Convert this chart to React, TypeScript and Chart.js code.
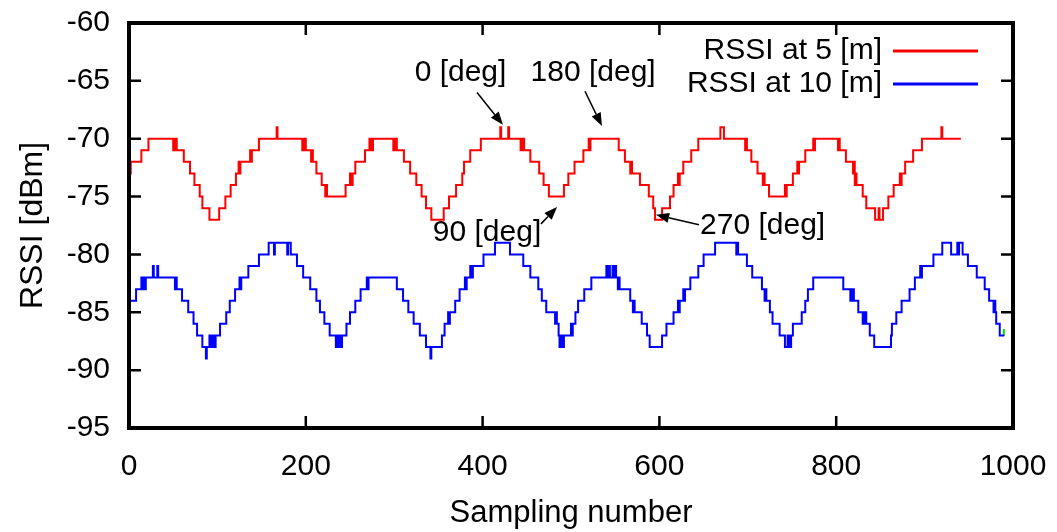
import { useEffect, useRef } from "react";
import { Chart, registerables } from "chart.js";

Chart.register(...registerables);

const FONT = "'Liberation Sans', Arial, Helvetica, sans-serif";

const xTicks = [0, 200, 400, 600, 800, 1000];
const yTicks = [-95, -90, -85, -80, -75, -70, -65, -60];

const seriesLabels = ["RSSI at 5 [m]", "RSSI at 10 [m]"];
const seriesColors = ["#ff0000", "#0000ff"];

// RSSI at 5 m: sample index where a level starts, and that level (dBm)
const red5mStart = [
  0, 2, 14, 22, 50, 51, 52, 53, 54, 62, 69, 74, 80, 83, 91, 102, 109, 115, 121, 124, 125, 126,
  137, 138, 139, 147, 167, 168, 196, 197, 198, 199, 200, 206, 207, 208, 212, 218, 222, 223, 224,
  245, 250, 252, 253, 256, 267, 272, 273, 274, 275, 276, 299, 300, 301, 302, 303, 311, 318, 325,
  331, 336, 342, 356, 362, 370, 377, 379, 386, 398, 420, 421, 429, 430, 443, 444, 445, 446, 447,
  454, 464, 469, 475, 492, 497, 504, 514, 520, 521, 522, 554, 561, 567, 568, 569, 578, 588, 593,
  595, 603, 612, 616, 621, 622, 623, 627, 636, 644, 669, 673, 697, 698, 699, 704, 711, 717, 718,
  719, 724, 742, 743, 744, 751, 756, 757, 758, 765, 774, 775, 776, 802, 803, 804, 811, 819, 820,
  821, 822, 823, 830, 834, 844, 848, 849, 853, 859, 865, 872, 873, 874, 878, 887, 897, 919, 920, 941,
];
const red5mLevel = [
  -73, -72, -71, -70, -71, -70, -71, -70, -71, -72, -73, -74, -75, -76, -77, -76, -75, -74, -73, -72, -73, -72,
  -71, -72, -71, -70, -69, -70, -71, -70, -71, -70, -71, -72, -71, -72, -73, -74, -75, -74, -75,
  -74, -73, -74, -73, -72, -71, -70, -71, -70, -71, -70, -71, -70, -71, -70, -71, -72, -73, -74,
  -75, -76, -77, -76, -75, -74, -73, -72, -71, -70, -69, -70, -69, -70, -71, -70, -71, -70, -71,
  -72, -73, -74, -75, -74, -73, -72, -71, -70, -71, -70, -71, -72, -73, -72, -73, -74, -75, -76,
  -77, -76, -75, -74, -73, -74, -73, -72, -71, -70, -69, -70, -71, -70, -71, -72, -73, -74, -73,
  -74, -75, -74, -75, -74, -73, -72, -73, -72, -71, -70, -71, -70, -71, -70, -71, -72, -73, -72,
  -74, -73, -74, -75, -76, -77, -76, -77, -76, -75, -74, -73, -74, -73, -72, -71, -70, -69, -70, -70,
];

// RSSI at 10 m
const blue10mStart = [
  0, 1, 8, 14, 15, 16, 17, 19, 27, 28, 32, 33, 52, 53, 54, 60, 67, 73, 77, 83, 87, 88, 91, 92, 93,
  94, 96, 97, 98, 103, 110, 114, 120, 125, 126, 127, 135, 147, 158, 164, 165, 179, 180, 183, 190,
  197, 205, 212, 216, 221, 227, 234, 236, 237, 238, 239, 241, 246, 250, 256, 262, 269, 270, 271,
  303, 310, 316, 322, 329, 336, 341, 342, 354, 357, 361, 362, 363, 369, 374, 380, 381, 382, 386,
  387, 389, 401, 414, 431, 446, 454, 463, 467, 472, 482, 483, 484, 486, 487, 489, 490, 492, 500,
  501, 502, 505, 508, 515, 523, 540, 541, 543, 544, 547, 548, 550, 551, 553, 554, 555, 567, 570,
  571, 572, 580, 586, 589, 603, 608, 616, 621, 622, 623, 627, 628, 629, 635, 644, 650, 663, 687,
  688, 689, 699, 705, 716, 719, 720, 721, 725, 728, 736, 742, 745, 746, 747, 748, 749, 751, 761,
  765, 768, 774, 808, 816, 817, 818, 819, 820, 825, 830, 831, 832, 833, 834, 838, 843, 862, 863,
  868, 874, 883, 889, 895, 896, 897, 910, 920, 930, 937, 938, 939, 943, 949, 959, 968, 973, 978,
  979, 980, 981, 985, 990,
];
const blue10mLevel = [
  -85, -84, -83, -82, -83, -82, -83, -82, -81, -82, -81, -82, -83, -82, -83, -84, -85, -86, -87, -88, -89, -88, -87, -88, -87,
  -88, -87, -88, -87, -86, -85, -84, -83, -82, -83, -82, -81, -80, -79, -80, -79, -80, -79, -80, -81,
  -82, -83, -84, -85, -86, -87, -88, -87, -88, -87, -88, -87, -86, -85, -84, -83, -82, -83, -82,
  -83, -84, -85, -86, -87, -88, -89, -88, -87, -86, -85, -86, -85, -84, -83, -82, -83, -82, -81,
  -82, -81, -80, -79, -80, -81, -82, -83, -84, -85, -86, -85, -86, -87, -88, -87, -88, -87, -86,
  -87, -86, -85, -84, -83, -82, -81, -82, -81, -82, -81, -82, -81, -82, -83, -82, -83, -84, -85,
  -84, -85, -86, -87, -88, -87, -86, -85, -84, -85, -84, -83, -84, -83, -82, -81, -80, -79, -80,
  -79, -80, -81, -82, -83, -84, -83, -84, -85, -86, -87, -88, -87, -88, -87, -88, -87, -86, -85,
  -84, -83, -82, -83, -84, -83, -84, -83, -84, -85, -86, -85, -86, -85, -86, -87, -88, -87, -86,
  -85, -84, -83, -82, -81, -82, -81, -80, -79, -80, -79, -80, -79, -80, -81, -82, -83, -84, -85,
  -84, -85, -86, -87, -87,
];

// small green trace visible at the very end of the record
const greenStart = [989.6, 989.6];
const greenLevel = [-86.45, -87.05];

// Annotations (text anchor and arrow in data units)
const annotationTexts = ["0 [deg]", "180 [deg]", "90 [deg]", "270 [deg]"];
const annotationTextX = [375, 525, 405, 646];
const annotationTextY = [-64.3, -64.3, -78.1, -77.5];
const annotationAlign = ["center", "center", "center", "left"];
const arrowFromX = [393.7, 515.8, 466, 644.8];
const arrowFromY = [-66.0, -65.9, -77.36, -77.44];
const arrowToX = [423, 535, 484.2, 596.2];
const arrowToY = [-68.8, -68.9, -75.9, -76.58];

const toPoints = (xs: number[], ys: number[]) => xs.map((x, i) => ({ x, y: ys[i] }));

const zeroPadding = (s: any) => {
  s.paddingTop = 0;
  s.paddingBottom = 0;
  s.paddingLeft = 0;
  s.paddingRight = 0;
};

const decorPlugin = {
  id: "decor",
  afterDatasetsDraw(chart: any) {
    const { ctx, chartArea: a, scales } = chart;
    const xs = scales.x;
    const ys = scales.y;
    ctx.save();
    ctx.strokeStyle = "#000";
    ctx.lineCap = "butt";
    // inward ticks on all four sides
    const tl = 12;
    ctx.lineWidth = 2.5;
    ctx.beginPath();
    for (const v of xTicks) {
      const px = xs.getPixelForValue(v);
      ctx.moveTo(px, a.bottom);
      ctx.lineTo(px, a.bottom - tl);
      ctx.moveTo(px, a.top);
      ctx.lineTo(px, a.top + tl);
    }
    for (const v of yTicks) {
      const py = ys.getPixelForValue(v);
      ctx.moveTo(a.left, py);
      ctx.lineTo(a.left + tl, py);
      ctx.moveTo(a.right, py);
      ctx.lineTo(a.right - tl, py);
    }
    ctx.stroke();
    // frame
    ctx.lineWidth = 4;
    ctx.lineJoin = "miter";
    ctx.strokeRect(a.left, a.top, a.right - a.left, a.bottom - a.top);

    // annotations
    ctx.fillStyle = "#000";
    ctx.font = `30px ${FONT}`;
    ctx.textBaseline = "middle";
    for (let i = 0; i < annotationTexts.length; i++) {
      ctx.textAlign = annotationAlign[i];
      ctx.fillText(annotationTexts[i], xs.getPixelForValue(annotationTextX[i]), ys.getPixelForValue(annotationTextY[i]));
      const fx = xs.getPixelForValue(arrowFromX[i]);
      const fy = ys.getPixelForValue(arrowFromY[i]);
      const tx = xs.getPixelForValue(arrowToX[i]);
      const ty = ys.getPixelForValue(arrowToY[i]);
      const ang = Math.atan2(ty - fy, tx - fx);
      const hl = 13;
      const hw = 5;
      const bx = tx - hl * Math.cos(ang);
      const by = ty - hl * Math.sin(ang);
      ctx.lineWidth = 1.5;
      ctx.beginPath();
      ctx.moveTo(fx, fy);
      ctx.lineTo(bx, by);
      ctx.stroke();
      ctx.beginPath();
      ctx.moveTo(tx, ty);
      ctx.lineTo(bx + hw * Math.sin(ang), by - hw * Math.cos(ang));
      ctx.lineTo(bx - hw * Math.sin(ang), by + hw * Math.cos(ang));
      ctx.closePath();
      ctx.fill();
    }

    // legend
    ctx.textAlign = "right";
    for (let i = 0; i < seriesLabels.length; i++) {
      const y = a.top + 28 + i * 33;
      ctx.fillStyle = "#000";
      ctx.fillText(seriesLabels[i], a.right - 131, y);
      ctx.strokeStyle = seriesColors[i];
      ctx.lineWidth = 3;
      ctx.beginPath();
      ctx.moveTo(a.right - 120, y);
      ctx.lineTo(a.right - 35, y);
      ctx.stroke();
    }
    ctx.restore();
  },
};

export default function App() {
  const canvasRef = useRef<HTMLCanvasElement | null>(null);

  useEffect(() => {
    document.body.style.margin = "0";
    const canvas = canvasRef.current;
    if (!canvas) return;
    const tickFont = { family: FONT, size: 30 };
    const chart = new Chart(canvas, {
      type: "line",
      data: {
        datasets: [
          {
            label: seriesLabels[0],
            data: toPoints(red5mStart, red5mLevel),
            borderColor: seriesColors[0],
            borderWidth: 2,
            pointRadius: 0,
            stepped: true,
            fill: false,
          },
          {
            label: seriesLabels[1],
            data: toPoints(blue10mStart, blue10mLevel),
            borderColor: seriesColors[1],
            borderWidth: 2,
            pointRadius: 0,
            stepped: true,
            fill: false,
          },
          {
            label: "",
            data: toPoints(greenStart, greenLevel),
            borderColor: "#00dd00",
            borderWidth: 2,
            pointRadius: 0,
            fill: false,
          },
        ],
      },
      options: {
        animation: false,
        responsive: false,
        events: [],
        layout: { padding: { top: 23, right: 44, left: 0, bottom: 0 } },
        plugins: { legend: { display: false }, tooltip: { enabled: false } },
        scales: {
          x: {
            type: "linear",
            min: 0,
            max: 1000,
            afterBuildTicks: (s: any) => {
              s.ticks = xTicks.map((v) => ({ value: v }));
            },
            afterFit: (s: any) => {
              s.height = 104;
              zeroPadding(s);
            },
            grid: { display: false, drawTicks: false },
            border: { display: false },
            ticks: {
              font: tickFont,
              color: "#000",
              padding: 21,
              maxRotation: 0,
              autoSkip: false,
              callback: (v: any) => String(v),
            },
            title: {
              display: true,
              text: "Sampling number",
              font: { family: FONT, size: 31 },
              color: "#000",
              padding: { top: 0, bottom: 0 },
            },
          },
          y: {
            type: "linear",
            min: -95,
            max: -60,
            afterBuildTicks: (s: any) => {
              s.ticks = yTicks.map((v) => ({ value: v }));
            },
            afterFit: (s: any) => {
              s.width = 129;
              zeroPadding(s);
            },
            grid: { display: false, drawTicks: false },
            border: { display: false },
            ticks: {
              font: tickFont,
              color: "#000",
              padding: 19,
              autoSkip: false,
              callback: (v: any) => String(v),
            },
            title: {
              display: true,
              text: "RSSI [dBm]",
              font: { family: FONT, size: 32 },
              color: "#000",
              padding: { top: 14, bottom: 0 },
            },
          },
        },
      },
      plugins: [decorPlugin],
    } as any);
    return () => chart.destroy();
  }, []);

  return (
    <div style={{ width: 1057, height: 532, background: "#fff" }}>
      <canvas ref={canvasRef} width={1057} height={532} style={{ display: "block" }} />
    </div>
  );
}
